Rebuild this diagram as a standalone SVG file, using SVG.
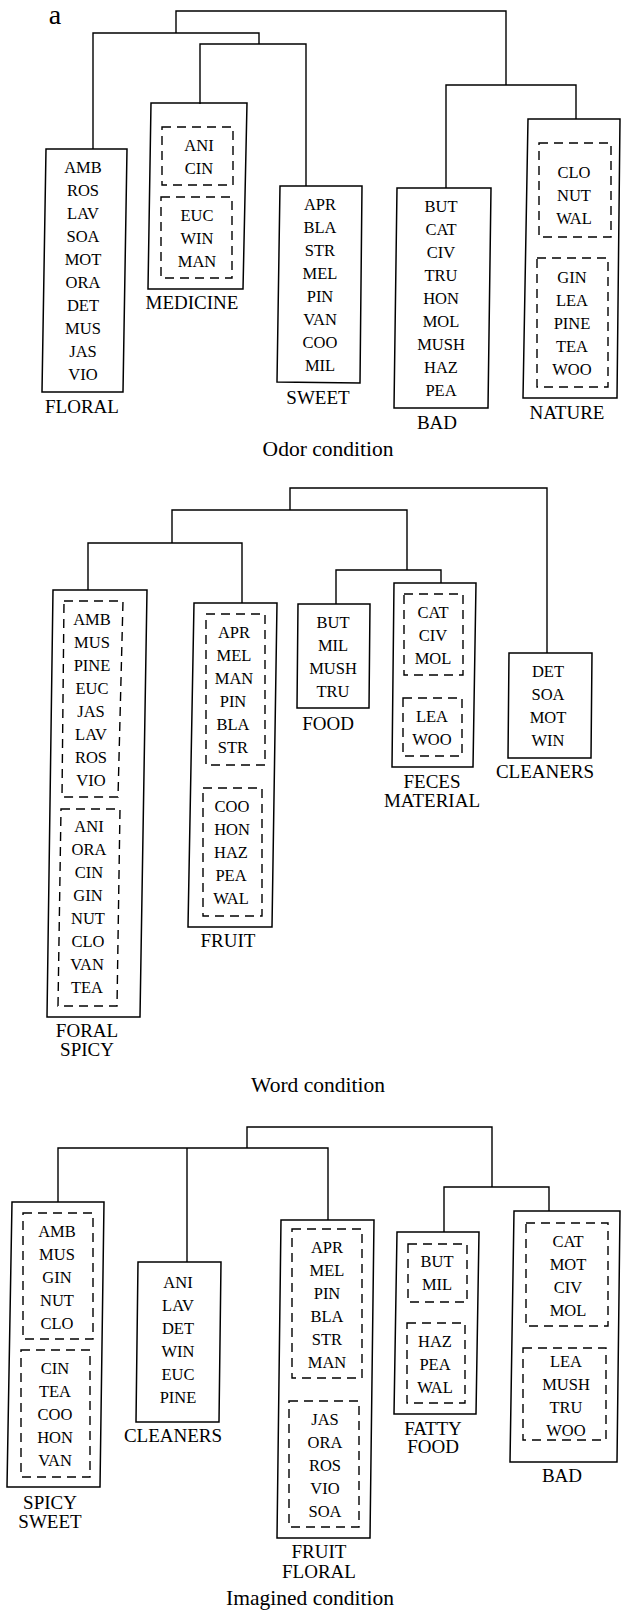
<svg xmlns="http://www.w3.org/2000/svg" width="621" height="1621" viewBox="0 0 621 1621">
<style>
.box{fill:none;stroke:#000;stroke-width:1.5;stroke-linejoin:miter}
.dash{fill:none;stroke:#000;stroke-width:1.4;stroke-dasharray:9 6}
.con{fill:none;stroke:#000;stroke-width:1.4}
text{font-family:"Liberation Serif","Times New Roman",serif;fill:#000;text-anchor:middle}
.it{font-size:16.5px}
.lb{font-size:19px}
.cd{font-size:21.5px}
</style>
<rect width="621" height="1621" fill="#fff"/>
<text x="55" y="24" style="font-size:28px">a</text>

<g id="connectors">
<path class="con" d="M176,33 V11 H506 V85"/>
<path class="con" d="M93,149 V33 H259 V44"/>
<path class="con" d="M200,104 V44 H306 V186"/>
<path class="con" d="M446,188 V85 H576 V119"/>
<path class="con" d="M290,510 V488 H547 V653"/>
<path class="con" d="M172,543 V510 H407 V570"/>
<path class="con" d="M88,590 V543 H242 V603"/>
<path class="con" d="M336,604 V570 H441 V583"/>
<path class="con" d="M247,1148 V1127 H492 V1187"/>
<path class="con" d="M58,1202 V1148 H328 V1220"/>
<path class="con" d="M187,1148 V1262"/>
<path class="con" d="M444,1232 V1187 H549 V1211"/>
</g>

<!-- Odor condition -->
<g id="odor-floral">
<path class="box" d="M46,149 L127,149 L123,392 L42,392 Z"/>
<text class="it" x="83" y="173">AMB</text><text class="it" x="83" y="196">ROS</text><text class="it" x="83" y="219">LAV</text><text class="it" x="83" y="242">SOA</text><text class="it" x="83" y="265">MOT</text><text class="it" x="83" y="288">ORA</text><text class="it" x="83" y="311">DET</text><text class="it" x="83" y="334">MUS</text><text class="it" x="83" y="357">JAS</text><text class="it" x="83" y="380">VIO</text>
<text class="lb" x="82" y="413">FLORAL</text>
</g>
<g id="odor-medicine">
<path class="box" d="M151,103 L247,103 L243,289 L148,289 Z"/>
<rect class="dash" x="162" y="127" width="71" height="58"/>
<text class="it" x="199" y="151">ANI</text><text class="it" x="199" y="174">CIN</text>
<rect class="dash" x="161" y="197" width="71" height="81"/>
<text class="it" x="197" y="221">EUC</text><text class="it" x="197" y="244">WIN</text><text class="it" x="197" y="267">MAN</text>
<text class="lb" x="192" y="309">MEDICINE</text>
</g>
<g id="odor-sweet">
<path class="box" d="M280,186 L362,186 L360,383 L277,382 Z"/>
<text class="it" x="320" y="210">APR</text><text class="it" x="320" y="233">BLA</text><text class="it" x="320" y="256">STR</text><text class="it" x="320" y="279">MEL</text><text class="it" x="320" y="302">PIN</text><text class="it" x="320" y="325">VAN</text><text class="it" x="320" y="348">COO</text><text class="it" x="320" y="371">MIL</text>
<text class="lb" x="318" y="404">SWEET</text>
</g>
<g id="odor-bad">
<path class="box" d="M397,188 L491,188 L488,408 L394,408 Z"/>
<text class="it" x="441" y="212">BUT</text><text class="it" x="441" y="235">CAT</text><text class="it" x="441" y="258">CIV</text><text class="it" x="441" y="281">TRU</text><text class="it" x="441" y="304">HON</text><text class="it" x="441" y="327">MOL</text><text class="it" x="441" y="350">MUSH</text><text class="it" x="441" y="373">HAZ</text><text class="it" x="441" y="396">PEA</text>
<text class="lb" x="437" y="429">BAD</text>
</g>
<g id="odor-nature">
<path class="box" d="M528,119 L620,119 L617,398 L523,398 Z"/>
<rect class="dash" x="539" y="143" width="72" height="94"/>
<text class="it" x="574" y="178">CLO</text><text class="it" x="574" y="201">NUT</text><text class="it" x="574" y="224">WAL</text>
<rect class="dash" x="537" y="258" width="71" height="129"/>
<text class="it" x="572" y="283">GIN</text><text class="it" x="572" y="306">LEA</text><text class="it" x="572" y="329">PINE</text><text class="it" x="572" y="352">TEA</text><text class="it" x="572" y="375">WOO</text>
<text class="lb" x="567" y="419">NATURE</text>
</g>
<text class="cd" x="328" y="456">Odor condition</text>

<!-- Word condition -->
<g id="word-floral-spicy">
<path class="box" d="M53,590 L147,590 L140,1017 L47,1017 Z"/>
<path class="dash" d="M64,601 L123,601 L118,797 L62,797 Z"/>
<text class="it" x="92" y="625">AMB</text><text class="it" x="92" y="648">MUS</text><text class="it" x="92" y="671">PINE</text><text class="it" x="92" y="694">EUC</text><text class="it" x="91" y="717">JAS</text><text class="it" x="91" y="740">LAV</text><text class="it" x="91" y="763">ROS</text><text class="it" x="91" y="786">VIO</text>
<path class="dash" d="M61,809 L120,809 L117,1006 L58,1006 Z"/>
<text class="it" x="89" y="832">ANI</text><text class="it" x="89" y="855">ORA</text><text class="it" x="89" y="878">CIN</text><text class="it" x="88" y="901">GIN</text><text class="it" x="88" y="924">NUT</text><text class="it" x="88" y="947">CLO</text><text class="it" x="87" y="970">VAN</text><text class="it" x="87" y="993">TEA</text>
<text class="lb" x="87" y="1037">FORAL</text><text class="lb" x="87" y="1056">SPICY</text>
</g>
<g id="word-fruit">
<path class="box" d="M194,603 L277,603 L272,927 L188,927 Z"/>
<rect class="dash" x="206" y="614" width="59" height="151"/>
<text class="it" x="234" y="638">APR</text><text class="it" x="234" y="661">MEL</text><text class="it" x="234" y="684">MAN</text><text class="it" x="233" y="707">PIN</text><text class="it" x="233" y="730">BLA</text><text class="it" x="233" y="753">STR</text>
<rect class="dash" x="203" y="788" width="59" height="128"/>
<text class="it" x="232" y="812">COO</text><text class="it" x="232" y="835">HON</text><text class="it" x="231" y="858">HAZ</text><text class="it" x="231" y="881">PEA</text><text class="it" x="231" y="904">WAL</text>
<text class="lb" x="228" y="947">FRUIT</text>
</g>
<g id="word-food">
<path class="box" d="M298,604 L370,604 L369,708 L297,708 Z"/>
<text class="it" x="333" y="628">BUT</text><text class="it" x="333" y="651">MIL</text><text class="it" x="333" y="674">MUSH</text><text class="it" x="333" y="697">TRU</text>
<text class="lb" x="328" y="730">FOOD</text>
</g>
<g id="word-feces-material">
<path class="box" d="M394,583 L476,583 L473,767 L392,767 Z"/>
<rect class="dash" x="404" y="594" width="59" height="81"/>
<text class="it" x="433" y="618">CAT</text><text class="it" x="433" y="641">CIV</text><text class="it" x="433" y="664">MOL</text>
<rect class="dash" x="403" y="698" width="59" height="58"/>
<text class="it" x="432" y="722">LEA</text><text class="it" x="432" y="745">WOO</text>
<text class="lb" x="432" y="788">FECES</text><text class="lb" x="432" y="807">MATERIAL</text>
</g>
<g id="word-cleaners">
<path class="box" d="M509,653 L592,653 L591,758 L508,758 Z"/>
<text class="it" x="548" y="677">DET</text><text class="it" x="548" y="700">SOA</text><text class="it" x="548" y="723">MOT</text><text class="it" x="548" y="746">WIN</text>
<text class="lb" x="545" y="778">CLEANERS</text>
</g>
<text class="cd" x="318" y="1092">Word condition</text>

<!-- Imagined condition -->
<g id="imag-spicy-sweet">
<path class="box" d="M12,1202 L104,1202 L100,1487 L7,1487 Z"/>
<rect class="dash" x="23" y="1213" width="70" height="126"/>
<text class="it" x="57" y="1237">AMB</text><text class="it" x="57" y="1260">MUS</text><text class="it" x="57" y="1283">GIN</text><text class="it" x="57" y="1306">NUT</text><text class="it" x="57" y="1329">CLO</text>
<rect class="dash" x="21" y="1350" width="69" height="127"/>
<text class="it" x="55" y="1374">CIN</text><text class="it" x="55" y="1397">TEA</text><text class="it" x="55" y="1420">COO</text><text class="it" x="55" y="1443">HON</text><text class="it" x="55" y="1466">VAN</text>
<text class="lb" x="50" y="1509">SPICY</text><text class="lb" x="50" y="1528">SWEET</text>
</g>
<g id="imag-cleaners">
<path class="box" d="M138,1262 L221,1262 L219,1422 L136,1422 Z"/>
<text class="it" x="178" y="1288">ANI</text><text class="it" x="178" y="1311">LAV</text><text class="it" x="178" y="1334">DET</text><text class="it" x="178" y="1357">WIN</text><text class="it" x="178" y="1380">EUC</text><text class="it" x="178" y="1403">PINE</text>
<text class="lb" x="173" y="1442">CLEANERS</text>
</g>
<g id="imag-fruit-floral">
<path class="box" d="M281,1220 L374,1220 L370,1538 L277,1538 Z"/>
<rect class="dash" x="292" y="1229" width="70" height="149"/>
<text class="it" x="327" y="1253">APR</text><text class="it" x="327" y="1276">MEL</text><text class="it" x="327" y="1299">PIN</text><text class="it" x="327" y="1322">BLA</text><text class="it" x="327" y="1345">STR</text><text class="it" x="327" y="1368">MAN</text>
<rect class="dash" x="289" y="1401" width="70" height="126"/>
<text class="it" x="325" y="1425">JAS</text><text class="it" x="325" y="1448">ORA</text><text class="it" x="325" y="1471">ROS</text><text class="it" x="325" y="1494">VIO</text><text class="it" x="325" y="1517">SOA</text>
<text class="lb" x="319" y="1558">FRUIT</text><text class="lb" x="319" y="1578">FLORAL</text>
</g>
<g id="imag-fatty-food">
<path class="box" d="M397,1232 L479,1232 L476,1414 L394,1414 Z"/>
<rect class="dash" x="408" y="1244" width="59" height="58"/>
<text class="it" x="437" y="1267">BUT</text><text class="it" x="437" y="1290">MIL</text>
<rect class="dash" x="407" y="1323" width="58" height="80"/>
<text class="it" x="435" y="1347">HAZ</text><text class="it" x="435" y="1370">PEA</text><text class="it" x="435" y="1393">WAL</text>
<text class="lb" x="433" y="1435">FATTY</text><text class="lb" x="433" y="1453">FOOD</text>
</g>
<g id="imag-bad">
<path class="box" d="M514,1211 L620,1211 L617,1462 L510,1462 Z"/>
<rect class="dash" x="526" y="1223" width="82" height="103"/>
<text class="it" x="568" y="1247">CAT</text><text class="it" x="568" y="1270">MOT</text><text class="it" x="568" y="1293">CIV</text><text class="it" x="568" y="1316">MOL</text>
<rect class="dash" x="523" y="1348" width="83" height="92"/>
<text class="it" x="566" y="1367">LEA</text><text class="it" x="566" y="1390">MUSH</text><text class="it" x="566" y="1413">TRU</text><text class="it" x="566" y="1436">WOO</text>
<text class="lb" x="562" y="1482">BAD</text>
</g>
<text class="cd" x="310" y="1605">Imagined condition</text>
</svg>
